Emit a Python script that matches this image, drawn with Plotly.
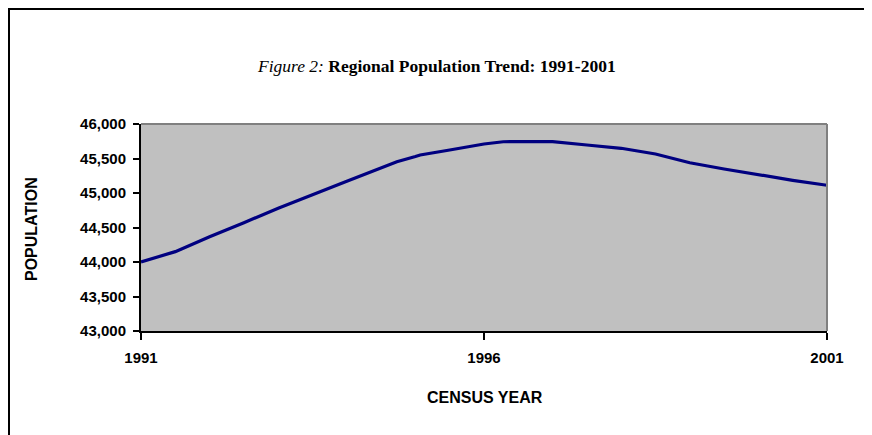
import plotly.graph_objects as go

# Data
years = [1991.0, 1991.3, 1991.5, 1992.0, 1992.25, 1992.5, 1993.0, 1993.3, 1993.5, 1994.0,
         1994.73, 1995.0, 1995.07, 1995.5, 1996.0, 1996.28, 1996.5, 1997.0, 1997.5, 1998.0,
         1998.5, 1999.0, 1999.5, 2000.0, 2000.36, 2000.5, 2001.0]
population = [44000, 44087, 44150, 44367, 44474, 44570, 44780, 44890, 44975, 45170,
              45454, 45529, 45551, 45623, 45710, 45743, 45745, 45745, 45696, 45648,
              45565, 45439, 45348, 45261, 45199, 45184, 45112]
x_ticks = [1991, 1996, 2001]
y_ticks = [43000, 43500, 44000, 44500, 45000, 45500, 46000]
y_tick_labels = ["43,000", "43,500", "44,000", "44,500", "45,000", "45,500", "46,000"]

# Layout geometry (pixels); page offset of 8px from the body margin
OFF = 8
W, H = 872, 435
L, T = 141 - OFF, 124 - OFF
pw, ph = 686, 207
R, B = W - L - pw, H - T - ph


def px(x):
    return (x - OFF - L) / pw


def py(y):
    return (T + ph - (y - OFF)) / ph


fig = go.Figure()
fig.add_trace(go.Scatter(x=years, y=population, mode="lines",
                         line=dict(color="#000080", width=3.2), hoverinfo="x+y"))

tickfont = dict(family="Liberation Sans, Arial, sans-serif", size=15, color="black")

fig.update_layout(
    width=W, height=H,
    margin=dict(l=L, r=R, t=T, b=B),
    paper_bgcolor="white",
    plot_bgcolor="#C0C0C0",
    showlegend=False,
    xaxis=dict(range=[1991, 2001], tickvals=x_ticks, ticktext=[f"<b>{v}</b>" for v in x_ticks],
               showgrid=False, zeroline=False, showline=True, linecolor="black", linewidth=2,
               ticks="outside", ticklen=7, tickwidth=2, tickcolor="black",
               tickfont=tickfont, ticklabelstandoff=5),
    yaxis=dict(range=[43000, 46000], tickvals=y_ticks, ticktext=[f"<b>{t}</b>" for t in y_tick_labels],
               showgrid=False, zeroline=False, showline=True, linecolor="black", linewidth=2,
               ticks="outside", ticklen=6, tickwidth=2, tickcolor="black",
               tickfont=tickfont, ticklabelstandoff=4),
    shapes=[
        dict(type="line", xref="paper", yref="paper", x0=0, x1=1, y0=1, y1=1,
             line=dict(color="#808080", width=2)),
        dict(type="line", xref="paper", yref="paper", x0=1, x1=1, y0=0, y1=1,
             line=dict(color="#808080", width=2)),
        dict(type="rect", xref="paper", yref="paper",
             x0=px(9), x1=px(W + 40), y0=py(H + 40), y1=py(9),
             line=dict(color="black", width=2), fillcolor="rgba(0,0,0,0)"),
    ],
    annotations=[
        dict(text="<i>Figure 2:</i> <b>Regional Population Trend: 1991-2001</b>",
             xref="paper", yref="paper", x=px(436), y=py(66), showarrow=False,
             xanchor="center", yanchor="middle",
             font=dict(family="Liberation Serif, Times New Roman, serif", size=17.5, color="black")),
        dict(text="<b>CENSUS YEAR</b>", xref="paper", yref="paper", x=px(485), y=py(397),
             showarrow=False, xanchor="center", yanchor="middle",
             font=dict(family="Liberation Sans, Arial, sans-serif", size=16, color="black")),
        dict(text="<b>POPULATION</b>", xref="paper", yref="paper", x=px(31), y=py(229),
             showarrow=False, xanchor="center", yanchor="middle", textangle=-90,
             font=dict(family="Liberation Sans, Arial, sans-serif", size=16, color="black")),
    ],
)

fig.write_html("out.html")
